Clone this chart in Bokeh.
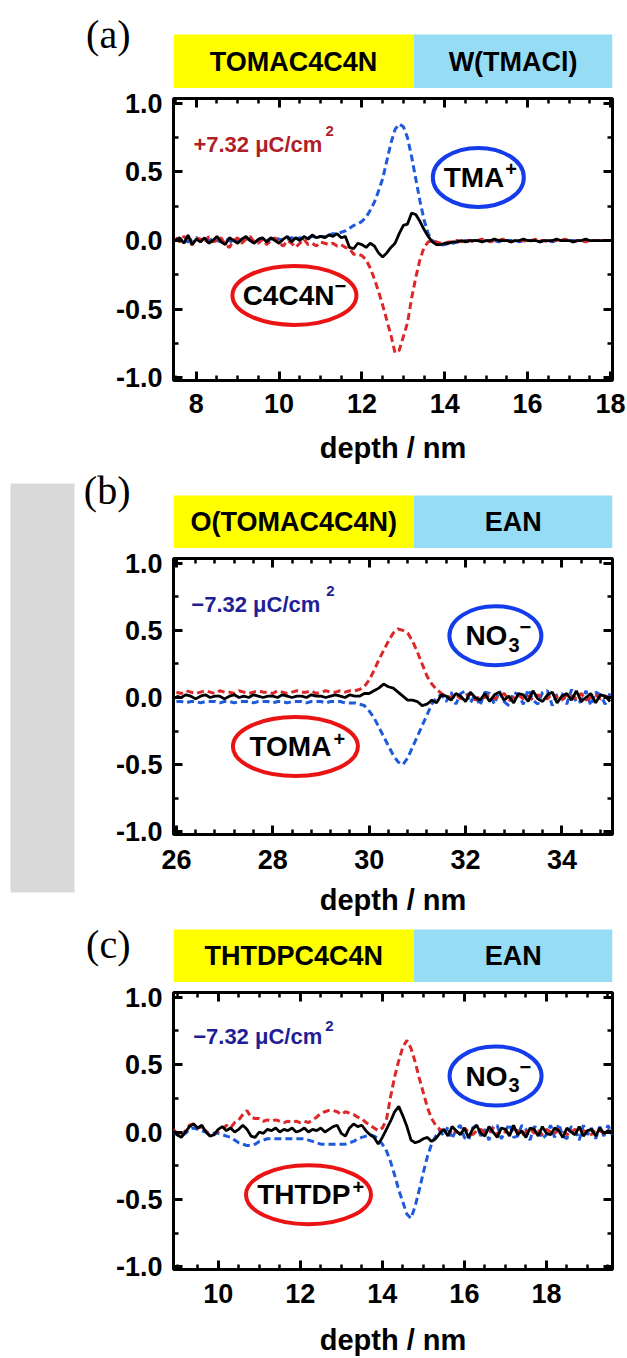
import numpy as np
from bokeh.plotting import figure
from bokeh.models import (Range1d, LinearAxis, SingleIntervalTicker, FixedTicker,
                          PrintfTickFormatter)
from bokeh.layouts import row, column
from bokeh.core.properties import value
from bokeh.embed import file_html
from bokeh.resources import INLINE

# ---------------- data ----------------
# panel (a): TOMAC4C4N | W(TMACl), depth 7.5 .. 18.0 nm, step 0.1
depth_a = np.round(np.arange(7.5, 18.05, 0.1), 2)
tma_a = ([0.00, 0.01, 0.00, -0.01, 0.01, 0.02, 0.00, -0.01, 0.00, 0.01,
          0.00, -0.01, 0.01, 0.00, -0.02, 0.00, 0.01, 0.02, 0.00, -0.01,
          0.00, 0.01, 0.00, 0.01, 0.02, 0.01, 0.00, 0.01, 0.02, 0.01,
          0.02, 0.01, 0.02, 0.03, 0.02, 0.03]
         + [0.03, 0.04, 0.05, 0.05, 0.06, 0.07, 0.09, 0.11, 0.12, 0.14,
            0.17, 0.22, 0.28, 0.36, 0.45, 0.58, 0.71, 0.81, 0.85, 0.83,
            0.75, 0.61, 0.45, 0.29, 0.15, 0.05, 0.00, -0.02, -0.03]
         + [-0.03, -0.02, -0.02, -0.01, -0.01, 0.00, -0.01, 0.00, 0.00, -0.01,
            0.00, 0.00, 0.00, -0.01, 0.00, 0.00, 0.00, 0.00, -0.01, 0.00,
            0.00, 0.00, 0.00, -0.01, 0.00, 0.00, -0.01, 0.00, 0.00, 0.00,
            0.00, 0.00, -0.01, 0.00, 0.00, 0.00, 0.00, 0.00, 0.00, 0.00, 0.00])
c4c4n_a = ([0.02, -0.01, 0.03, 0.00, -0.03, 0.02, 0.01, -0.02, 0.03, -0.01,
            0.00, 0.02, -0.03, -0.05, 0.00, 0.02, -0.02, 0.01, 0.03, -0.01,
            -0.02, 0.01, -0.03, 0.00, 0.02, -0.02, -0.04, 0.00, -0.02, -0.05,
            -0.02, 0.01, -0.03, -0.02, -0.04, -0.01]
           + [-0.02, -0.03, -0.02, -0.04, -0.03, -0.05, -0.06, -0.10, -0.10, -0.11,
              -0.14, -0.20, -0.28, -0.37, -0.47, -0.58, -0.69, -0.82, -0.80, -0.70,
              -0.60, -0.42, -0.27, -0.14, -0.05, -0.01, 0.00, -0.01, -0.02]
           + [-0.02, -0.01, -0.01, 0.00, -0.01, 0.00, 0.00, -0.01, 0.00, 0.01,
              0.00, -0.01, 0.00, 0.00, 0.01, 0.00, -0.01, 0.00, 0.00, 0.00,
              -0.01, 0.00, 0.01, 0.00, 0.00, -0.01, 0.00, 0.00, 0.00, 0.01,
              0.00, -0.01, 0.00, 0.00, -0.01, 0.00, 0.00, 0.00, 0.00, 0.00, 0.00])
total_a = ([0.00, 0.02, -0.02, 0.04, -0.03, 0.01, -0.01, 0.02, -0.02, 0.00,
            0.03, -0.01, -0.03, 0.02, 0.00, -0.02, 0.01, 0.03, 0.00, -0.02,
            0.01, 0.02, -0.01, 0.02, 0.00, -0.02, 0.01, 0.03, -0.01, 0.02,
            0.00, 0.03, 0.01, 0.04, 0.02, 0.03]
           + [0.02, 0.04, 0.03, 0.05, 0.02, 0.03, -0.05, -0.06, -0.02, -0.03,
              -0.05, -0.02, -0.04, -0.09, -0.12, -0.09, -0.05, -0.02, 0.05, 0.11,
              0.12, 0.20, 0.19, 0.14, 0.08, 0.03, -0.01, -0.03, -0.03]
           + [-0.02, -0.02, -0.01, -0.01, 0.00, -0.01, 0.00, 0.00, 0.00, -0.01,
              0.00, 0.00, 0.01, 0.00, 0.00, 0.00, -0.01, 0.00, 0.00, 0.01,
              0.00, 0.00, 0.00, -0.01, 0.00, 0.00, 0.00, 0.01, 0.00, 0.00,
              0.00, -0.01, 0.00, 0.00, 0.01, 0.00, 0.00, 0.00, 0.00, 0.00, 0.00])

# panel (b): O(TOMAC4C4N) | EAN, depth 26.0 .. 35.0 nm
depth_b = np.round(np.arange(26.0, 35.05, 0.1), 2)
toma_b = ([0.04, 0.03, 0.05, 0.04, 0.03, 0.04, 0.05, 0.04, 0.03, 0.05,
           0.04, 0.04, 0.03, 0.05, 0.04, 0.03, 0.04, 0.05, 0.04, 0.04,
           0.03, 0.05, 0.04, 0.03, 0.04, 0.05, 0.04, 0.04, 0.05, 0.03,
           0.04, 0.05, 0.04, 0.04, 0.05, 0.04, 0.05, 0.05]
          + [0.06, 0.08, 0.13, 0.20, 0.28, 0.35, 0.42, 0.48, 0.51, 0.50,
             0.48, 0.42, 0.34, 0.25, 0.16, 0.10, 0.06, 0.03, 0.01]
          + [0.00, 0.02, -0.01, 0.01, 0.03, -0.02, 0.01, 0.00, 0.02, -0.01,
             0.01, 0.03, -0.02, 0.00, 0.02, -0.01, 0.01, -0.02, 0.02, 0.00,
             -0.01, 0.03, 0.00, -0.02, 0.02, 0.01, -0.01, 0.03, -0.02, 0.00,
             0.02, -0.01, 0.01, 0.00])
no3_b = ([-0.03, -0.03, -0.04, -0.03, -0.03, -0.04, -0.03, -0.03, -0.03, -0.04,
          -0.03, -0.03, -0.04, -0.03, -0.03, -0.03, -0.04, -0.03, -0.03, -0.03,
          -0.04, -0.03, -0.03, -0.04, -0.03, -0.03, -0.03, -0.04, -0.03, -0.03,
          -0.03, -0.04, -0.03, -0.03, -0.03, -0.04, -0.04, -0.04]
         + [-0.05, -0.06, -0.10, -0.15, -0.22, -0.29, -0.36, -0.43, -0.48, -0.50,
            -0.45, -0.37, -0.29, -0.21, -0.13, -0.05, 0.00, 0.02, -0.03]
         + [0.04, -0.05, 0.03, 0.05, -0.04, 0.02, -0.06, 0.04, 0.03, -0.05,
            0.05, -0.03, -0.06, 0.04, 0.02, -0.05, 0.06, -0.02, -0.05, 0.04,
            0.05, -0.06, 0.02, 0.03, -0.05, 0.06, -0.04, -0.03, 0.05, -0.06,
            0.04, 0.02, -0.05, 0.03])
total_b = ([0.01, 0.00, 0.02, 0.01, -0.01, 0.01, 0.02, 0.00, 0.01, 0.01,
            -0.01, 0.01, 0.02, 0.00, 0.01, 0.00, 0.02, 0.01, 0.00, 0.01,
            0.01, 0.00, 0.02, 0.01, 0.00, 0.01, 0.01, 0.00, 0.02, 0.01,
            0.01, 0.00, 0.01, 0.02, 0.01, 0.00, 0.02, 0.01]
           + [0.01, 0.03, 0.03, 0.05, 0.07, 0.10, 0.08, 0.07, 0.04, 0.01,
              -0.02, -0.02, -0.03, -0.06, -0.05, -0.02, -0.04, 0.02, 0.01]
           + [-0.02, 0.03, 0.01, -0.03, 0.04, 0.00, -0.02, 0.03, -0.03, 0.02,
              0.04, -0.02, 0.01, -0.04, 0.03, 0.02, -0.03, 0.05, -0.01, -0.03,
              0.02, 0.04, -0.04, 0.01, 0.03, -0.02, 0.05, -0.03, 0.00, 0.03,
              -0.04, 0.02, 0.01, -0.03])

# panel (c): THTDPC4C4N | EAN, depth 8.9 .. 19.6 nm
depth_c = np.round(np.arange(8.9, 19.65, 0.1), 2)
thtdp_c = ([0.02, -0.01, -0.03, 0.01, 0.05, 0.06, 0.03, 0.04, 0.01, -0.03,
            -0.02, 0.01, 0.02, 0.05, 0.03, 0.07, 0.09, 0.13, 0.16, 0.11,
            0.10, 0.10, 0.08, 0.09, 0.08, 0.09, 0.08, 0.07, 0.08, 0.07,
            0.08, 0.07, 0.08, 0.07, 0.09, 0.11, 0.14, 0.15, 0.16, 0.16,
            0.15, 0.13, 0.15, 0.14, 0.13, 0.11, 0.10, 0.07, 0.05, 0.03,
            0.01]
           + [0.03, 0.09, 0.26, 0.41, 0.53, 0.63, 0.68, 0.62, 0.52, 0.40,
              0.29, 0.18, 0.10, 0.05, 0.02]
           + [0.01, -0.02, 0.02, 0.00, -0.01, 0.03, 0.00, -0.02, 0.01, 0.02,
              -0.01, 0.00, 0.03, -0.02, 0.01, 0.00, -0.01, 0.02, 0.01, -0.02,
              0.00, 0.03, -0.01, 0.01, -0.02, 0.02, 0.00, -0.01, 0.02, 0.01,
              -0.02, 0.00, 0.02, -0.01, 0.01, 0.00, -0.02, 0.02, 0.01, -0.01,
              0.00, 0.01])
no3_c = ([0.00, -0.02, -0.03, -0.01, 0.02, 0.03, 0.02, 0.01, 0.00, -0.01,
          -0.01, -0.01, -0.02, -0.03, -0.04, -0.06, -0.08, -0.09, -0.10, -0.10,
          -0.09, -0.07, -0.06, -0.05, -0.05, -0.05, -0.05, -0.05, -0.05, -0.05,
          -0.05, -0.05, -0.05, -0.06, -0.07, -0.08, -0.09, -0.09, -0.09, -0.09,
          -0.09, -0.09, -0.09, -0.08, -0.07, -0.05, -0.04, -0.03, -0.02, -0.03,
          -0.05]
         + [-0.09, -0.14, -0.22, -0.32, -0.43, -0.52, -0.61, -0.64, -0.55, -0.43,
            -0.30, -0.18, -0.09, -0.03, 0.01]
         + [-0.03, 0.04, -0.05, 0.02, 0.05, -0.04, -0.06, 0.03, 0.05, -0.03,
            0.02, -0.06, 0.04, 0.05, -0.05, 0.01, 0.06, -0.04, -0.03, 0.05,
            0.02, -0.06, 0.04, 0.03, -0.05, -0.02, 0.05, -0.04, 0.06, -0.03,
            -0.05, 0.04, 0.02, -0.06, 0.05, -0.02, 0.03, -0.05, 0.04, -0.03,
            0.05, -0.02])
total_c = ([0.01, -0.02, -0.04, 0.00, 0.04, 0.06, 0.03, 0.05, 0.00, -0.03,
            -0.02, 0.02, 0.04, 0.01, 0.03, 0.00, 0.02, 0.05, 0.02, -0.03,
            -0.04, 0.00, -0.01, 0.02, 0.01, 0.03, 0.00, 0.02, 0.01, 0.03,
            0.00, 0.01, 0.03, 0.00, 0.02, 0.01, 0.03, 0.00, 0.02, 0.04,
            0.05, -0.01, -0.03, 0.03, 0.06, 0.04, 0.05, 0.01, -0.02, -0.04,
            -0.09]
           + [-0.04, 0.02, 0.08, 0.15, 0.19, 0.12, 0.04, -0.06, -0.08, -0.07,
              -0.05, -0.04, -0.07, -0.05, -0.01]
           + [0.02, -0.03, 0.04, 0.01, -0.02, 0.03, -0.04, 0.02, 0.05, -0.01,
              -0.03, 0.04, 0.00, -0.04, 0.03, 0.02, -0.03, 0.05, -0.02, 0.01,
              -0.04, 0.03, 0.02, -0.03, 0.04, -0.01, -0.02, 0.03, 0.01, -0.04,
              0.03, 0.00, -0.02, 0.04, -0.03, 0.01, 0.02, -0.03, 0.03, -0.01,
              0.01, 0.00])

# interface depths (edge between the two phases) and phase names
interface = {"a": 13.25, "b": 30.93, "c": 14.77}
phases = {"a": ("TOMAC4C4N", "W(TMACl)"),
          "b": ("O(TOMAC4C4N)", "EAN"),
          "c": ("THTDPC4C4N", "EAN")}
x_ranges = {"a": (7.45, 18.05), "b": (25.94, 35.05), "c": (8.91, 19.61)}
charge = {"a": "+7.32 \u03bcC/cm", "b": "\u22127.32 \u03bcC/cm", "c": "\u22127.32 \u03bcC/cm"}

# ---------------- styling ----------------
FONT = "Liberation Sans"
SERIF = "Liberation Serif"
RED = "#dc2828"
BLUE = "#1e5adc"
ELL_RED = "#eb1414"
ELL_BLUE = "#143ceb"
YELLOW = "#ffff00"
LIGHTBLUE = "#97dcf5"
FIG_W = 547
BL, BR = 90, 15
Y0, Y1 = -1.02, 1.035


def style_axis(ax, show):
    ax.axis_line_color = None
    ax.major_tick_in = 9
    ax.major_tick_out = 0
    ax.minor_tick_in = 5
    ax.minor_tick_out = 0
    ax.major_tick_line_width = 3
    ax.minor_tick_line_width = 2.5
    ax.major_tick_line_color = "black"
    ax.minor_tick_line_color = "black"
    if show:
        ax.major_label_text_font = FONT
        ax.major_label_text_font_style = "bold"
        ax.major_label_text_font_size = "27px"
        ax.major_label_text_color = "black"
    else:
        ax.major_label_text_font_size = "0px"
        ax.major_label_text_alpha = 0
        ax.major_label_standoff = 0


def make_plot(depth, blue, red, black, xr, height, top, frame_h, minor_x, st_tick, st_label):
    bottom = height - top - frame_h
    p = figure(width=FIG_W, height=height, x_range=xr,
               y_range=Range1d(Y0, Y1), x_axis_type=None, y_axis_type=None,
               toolbar_location=None, output_backend="svg",
               min_border_left=BL, min_border_right=BR,
               min_border_top=top, min_border_bottom=bottom)
    p.outline_line_color = "black"
    p.outline_line_width = 3
    p.background_fill_color = "white"
    p.border_fill_color = "white"
    for side in ("below", "above"):
        ax = LinearAxis(ticker=SingleIntervalTicker(interval=2, num_minor_ticks=minor_x))
        style_axis(ax, side == "below")
        if side == "below":
            ax.major_label_standoff = st_tick
            ax.axis_label = "depth / nm"
            ax.axis_label_text_font = FONT
            ax.axis_label_text_font_style = "bold"
            ax.axis_label_text_font_size = "29px"
            ax.axis_label_text_color = "black"
            ax.axis_label_standoff = st_label
        p.add_layout(ax, side)
    for side in ("left", "right"):
        ax = LinearAxis(ticker=SingleIntervalTicker(interval=0.5, num_minor_ticks=2),
                        formatter=PrintfTickFormatter(format="%.1f"))
        style_axis(ax, side == "left")
        if side == "left":
            ax.major_label_standoff = 11
        p.add_layout(ax, side)
    p.line(depth, blue, line_color=BLUE, line_width=3, line_dash="7 4")
    p.line(depth, red, line_color=RED, line_width=3, line_dash="7 4")
    p.line(depth, black, line_color="black", line_width=2.8)
    return p


def make_header(key, xr, height, lab, lab_y, bar_top, bar_bot):
    """Phase bar above a panel; vertical positions are pixels from the top of this strip."""
    x0, x1 = x_ranges[key]
    h = figure(width=FIG_W, height=height, x_range=xr, y_range=Range1d(height, 0),
               x_axis_type=None, y_axis_type=None, toolbar_location=None,
               output_backend="svg", min_border_left=BL, min_border_right=BR,
               min_border_top=0, min_border_bottom=0, outline_line_color=None)
    h.background_fill_color = "white"
    h.border_fill_color = "white"
    xi = interface[key]
    h.quad(left=[x0, xi], right=[xi, x1], top=bar_top, bottom=bar_bot,
           fill_color=[YELLOW, LIGHTBLUE], line_color=None)
    mid = (bar_top + bar_bot) / 2
    h.text(x=[(x0 + xi) / 2, (xi + x1) / 2], y=[mid, mid], text=list(phases[key]),
           text_align="center", text_baseline="middle", text_font=value(FONT),
           text_font_style="bold", text_font_size="27px", text_color="black")
    # panel letter as the single tick label of a bare left axis
    ax = LinearAxis(ticker=FixedTicker(ticks=[lab_y]), major_label_overrides={lab_y: lab})
    ax.axis_line_color = None
    ax.major_tick_line_color = None
    ax.minor_tick_line_color = None
    ax.major_tick_out = 0
    ax.major_tick_in = 0
    ax.major_label_standoff = 43
    ax.major_label_text_font = SERIF
    ax.major_label_text_font_size = "40px"
    ax.major_label_text_font_style = "normal"
    ax.major_label_text_color = "black"
    h.add_layout(ax, "left")
    return h


def add_ion_label(p, cx, cy, color, w, main, main_right, extras):
    p.ellipse(x=[cx], y=[cy], width=w, height=59, width_units="screen",
              height_units="screen", fill_color=None, line_color=color, line_width=4)
    p.text(x=[cx], y=[cy], text=[main], x_offset=main_right, text_align="right",
           text_baseline="middle", text_font=value(FONT), text_font_style="bold",
           text_font_size="28px", text_color="black")
    for t, dx, dy, size in extras:
        p.text(x=[cx], y=[cy], text=[t], x_offset=dx, y_offset=dy, text_align="left",
               text_baseline="middle", text_font=value(FONT), text_font_style="bold",
               text_font_size=size, text_color="black")


def charge_label(p, key, x, y, sx, sy, color):
    p.text(x=[x], y=[y], text=[charge[key]], text_align="left", text_baseline="middle",
           text_font=value(FONT), text_font_style="bold", text_font_size="22px",
           text_color=color)
    p.text(x=[sx], y=[sy], text=["2"], text_align="left", text_baseline="middle",
           text_font=value(FONT), text_font_style="bold", text_font_size="15px",
           text_color=color)


# ---------------- panel (a) : y 0..466 ----------------
xr_a = Range1d(*x_ranges["a"])
h_a = make_header("a", xr_a, 88, "(a)", 34, 34, 88)
p_a = make_plot(depth_a, tma_a, c4c4n_a, total_a, xr_a, 378, 10, 283, 4, 13, 16)
charge_label(p_a, "a", 7.93, 0.70, 11.12, 0.80, "#b01e28")
add_ion_label(p_a, 14.81, 0.46, ELL_BLUE, 91, "TMA", 26, [("+", 27, -8, "20px")])
add_ion_label(p_a, 10.37, -0.40, ELL_RED, 124, "C4C4N", 40, [("\u2212", 40, -9, "20px")])

# ---------------- panel (b) : y 466..918 ----------------
xr_b = Range1d(*x_ranges["b"])
h_b = make_header("b", xr_b, 82, "(b)", 24, 29, 82)
p_b = make_plot(depth_b, no3_b, toma_b, total_b, xr_b, 370, 10, 282, 5, 15, 12)
charge_label(p_b, "b", 26.31, 0.69, 29.11, 0.79, "#1e1e96")
add_ion_label(p_b, 32.62, 0.46, ELL_BLUE, 92, "NO", 12,
              [("3", 13, 9, "20px"), ("\u2212", 24, -9, "20px")])
add_ion_label(p_b, 28.47, -0.365, ELL_RED, 125, "TOMA", 36, [("+", 38, -8, "20px")])

# ---------------- panel (c) : y 918..1358 ----------------
xr_c = Range1d(*x_ranges["c"])
h_c = make_header("c", xr_c, 64, "(c)", 19, 11, 64)
p_c = make_plot(depth_c, no3_c, thtdp_c, total_c, xr_c, 376, 10, 283, 4, 14, 18)
charge_label(p_c, "c", 9.39, 0.705, 12.61, 0.79, "#1e1e96")
add_ion_label(p_c, 16.76, 0.415, ELL_BLUE, 92, "NO", 12,
              [("3", 13, 9, "20px"), ("\u2212", 24, -9, "20px")])
add_ion_label(p_c, 12.2, -0.465, ELL_RED, 125, "THTDP", 42, [("+", 44, -8, "20px")])

# ---------------- grey strip on the left ----------------
strip = figure(width=80, height=1358, x_range=Range1d(0, 80), y_range=Range1d(1358, 0),
               x_axis_type=None, y_axis_type=None, toolbar_location=None,
               output_backend="svg", min_border_left=0, min_border_right=0,
               min_border_top=0, min_border_bottom=0, outline_line_color=None)
strip.quad(left=[10], right=[74], top=[483], bottom=[892], fill_color="#d9d9d9",
           line_color=None)

layout = row(strip, column(h_a, p_a, h_b, p_b, h_c, p_c))
open("out.html", "w").write(file_html(layout, INLINE, "charge profiles"))
